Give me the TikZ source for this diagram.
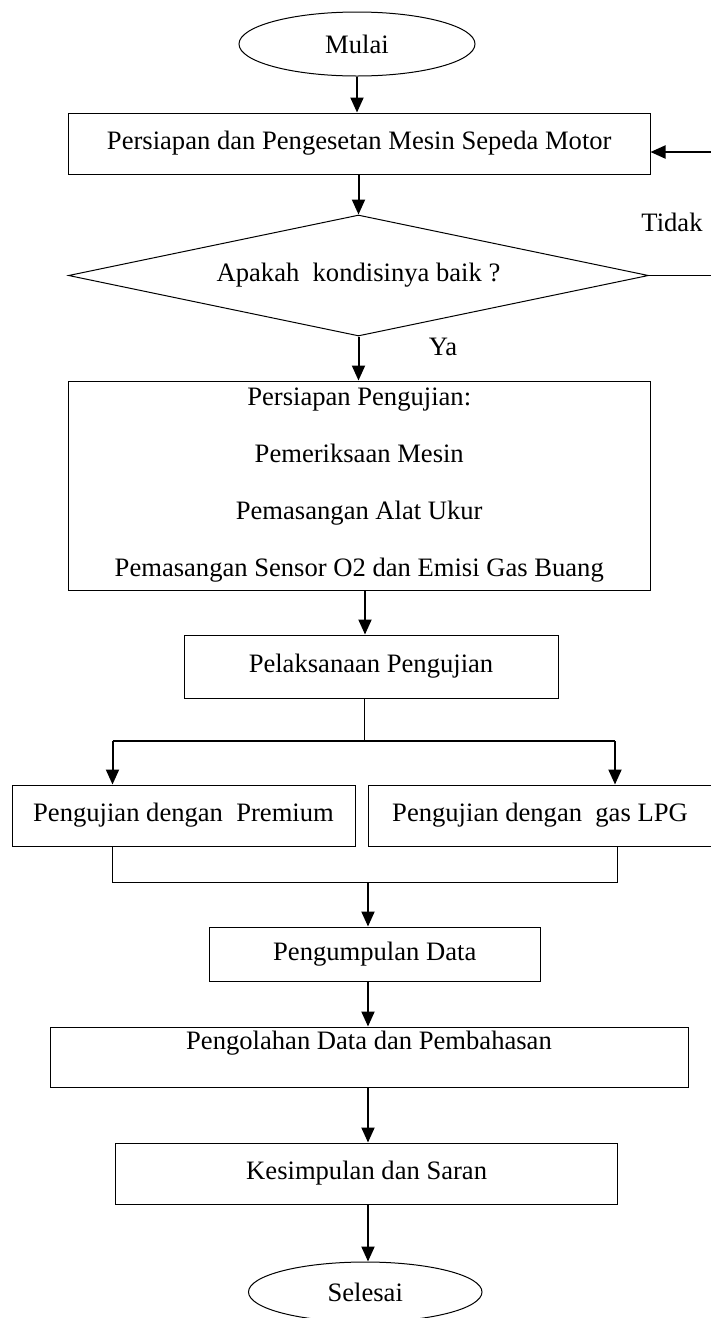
\documentclass[tikz,border=0pt]{standalone}
\usepackage{fontspec}
\setmainfont{Liberation Serif}
\usetikzlibrary{shapes.geometric,arrows.meta,calc}
\begin{document}
\begin{tikzpicture}[x=0.5pt,y=-0.5pt,
  font=\fontsize{13.3}{15.5}\selectfont,
  box/.style={draw, line width=0.5pt, inner sep=0pt, align=center},
  term/.style={draw, ellipse, line width=0.5pt, inner sep=0pt},
  dec/.style={draw, diamond, aspect=4.79, line width=0.5pt, inner sep=0pt},
  arr/.style={line width=1pt, -{Triangle[length=7.5pt,width=6.5pt]}},
  thinline/.style={line width=0.5pt},
  midline/.style={line width=0.8pt}]
\useasboundingbox (0,0) rectangle (711,1318);

\node[term, minimum width=118pt, minimum height=32pt] (mulai) at (357,44) {Mulai};
\node[box, minimum width=290.75pt, minimum height=30.5pt] (prep) at (359.25,143.5) {Persiapan dan Pengesetan Mesin Sepeda Motor};
\node[dec, minimum width=290pt, minimum height=60.5pt] (cek) at (358.5,275.5) {Apakah\ \ kondisinya baik ?};
\node[box, minimum width=290.75pt, minimum height=104.5pt] (uji) at (359.25,485.5) {Persiapan Pengujian:\\[13pt]Pemeriksaan Mesin\\[13pt]Pemasangan Alat Ukur\\[13pt]Pemasangan Sensor O2 dan Emisi Gas Buang};
\node[box, minimum width=187pt, minimum height=31.5pt] (laks) at (371,666.5) {Pelaksanaan Pengujian};
\node[box, minimum width=171.5pt, minimum height=30.5pt] (prem) at (183.5,815.5) {Pengujian dengan\ \ Premium};
\node[box, minimum width=172pt, minimum height=30.5pt] (lpg) at (540,815.5) {Pengujian dengan\ \ gas LPG};
\node[box, minimum width=165.25pt, minimum height=27pt] (kumpul) at (374.75,954) {Pengumpulan Data};
\node[box, minimum width=319pt, minimum height=30pt] (olah) at (369,1057) {\raisebox{7pt}[\height][\depth]{Pengolahan Data dan Pembahasan}};
\node[box, minimum width=251pt, minimum height=30.5pt] (simpul) at (366.65,1173.5) {Kesimpulan dan Saran};
\node[term, minimum width=116.75pt, minimum height=30pt] (selesai) at (365.25,1292) {Selesai};

\node (tidak) at (672,222) {Tidak};
\node (ya) at (443,347) {Ya};

\coordinate (x365) at (365,0);
\coordinate (split) at (364,741);
\coordinate (splitL) at (112.5,741);
\coordinate (splitR) at (615,741);
\coordinate (joinL) at (112.5,882);
\coordinate (joinR) at (617,882);
\coordinate (join) at (368,882);
\coordinate (fb1) at (713,152);

\draw[arr] (mulai.south) -- (mulai.south |- prep.north);
\draw[arr] (cek.north |- prep.south) -- (cek.north);
\draw[arr] (cek.south) -- (cek.south |- uji.north);
\draw[arr] (x365 |- uji.south) -- (x365 |- laks.north);
\draw[thinline] (split |- laks.south) -- (split);
\draw[midline] (splitL) -- (splitR);
\draw[arr] (splitL) -- (splitL |- prem.north);
\draw[arr] (splitR) -- (splitR |- lpg.north);
\draw[thinline] (joinL |- prem.south) -- (joinL) -- (joinR) -- (joinR |- lpg.south);
\draw[arr] (join) -- (join |- kumpul.north);
\draw[arr] (join |- kumpul.south) -- (join |- olah.north);
\draw[arr] (join |- olah.south) -- (join |- simpul.north);
\draw[arr] (join |- simpul.south) -- (join |- selesai.north);

\draw[thinline] (cek.east) -- (cek.east -| fb1) -- (fb1);
\draw[arr] (fb1) -- (fb1 -| prep.east);
\end{tikzpicture}
\end{document}
